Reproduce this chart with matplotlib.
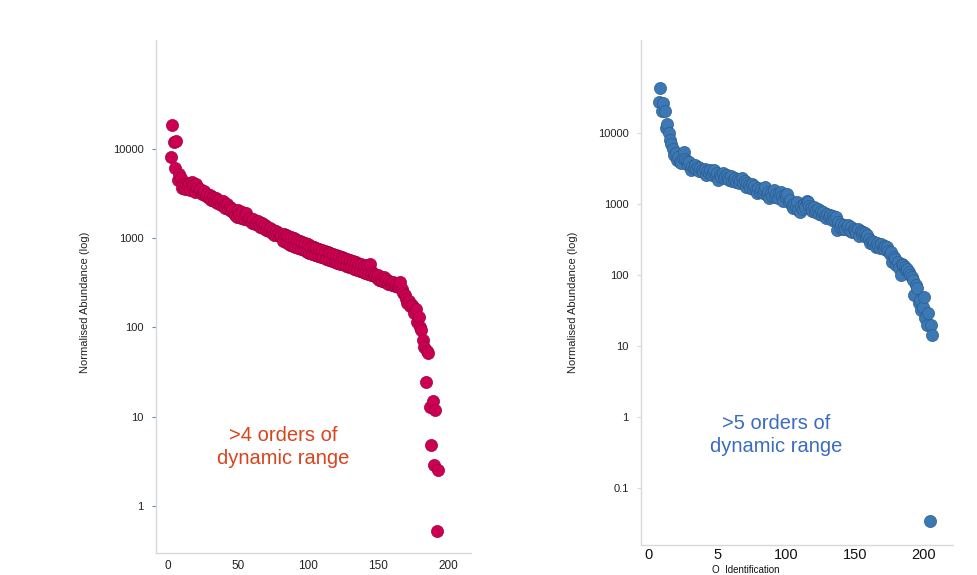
import numpy as np
import matplotlib.pyplot as plt

plt.rcParams['font.family'] = ['Liberation Sans', 'DejaVu Sans']

# ---- left panel: ranked abundances (crimson) ----
left_abund = [
    8100, 18600, 12000, 6200, 12200, 4500, 5300, 4700, 3700, 4100,
    3600, 4000, 3800, 4200, 3500, 4300, 3900, 3300, 4000, 3700,
    3400, 3600, 3100, 3200, 3400, 2950, 3100, 2800, 3050, 2700,
    2900, 2600, 2850, 2500, 2700, 2450, 2350, 2600, 2300, 2200,
    2400, 2100, 2250, 2000, 2150, 1900, 1800, 1740, 2050, 1850,
    1700, 1950, 1650, 1800, 1920, 1600, 1700, 1550, 1500, 1650,
    1450, 1470, 1550, 1400, 1350, 1480, 1300, 1420, 1250, 1350,
    1200, 1300, 1150, 1250, 1100, 1200, 1080, 1150, 1050, 1080,
    930, 1120, 1100, 880, 1060, 850, 1020, 820, 1000, 800,
    950, 780, 940, 760, 900, 730, 880, 700, 860, 690,
    820, 660, 800, 650, 780, 640, 760, 620, 740, 610,
    720, 590, 700, 570, 690, 560, 660, 540, 650, 530,
    640, 520, 620, 510, 600, 490, 590, 480, 570, 470,
    560, 450, 540, 440, 520, 430, 510, 420, 490, 410,
    500, 400, 520, 390, 420, 400, 380, 360, 390, 340,
    350, 330, 370, 320, 345, 310, 330, 315, 300, 325,
    290, 310, 285, 300, 325, 270, 244, 230, 210, 190,
    200, 175, 180, 171, 145, 160, 116, 130, 100, 94,
    72, 61, 24.7, 55, 52, 13, 4.8, 15, 2.9, 12,
    0.53, 2.5,
]
left_rank = np.arange(2, 2 + len(left_abund))

# ---- right panel: ranked abundances (blue) ----
right_abund = [
    27600, 42700, 20600, 26200, 20600, 11700, 13400, 10100, 8000, 7000,
    6000, 4900, 5200, 4170, 4600, 3900, 3730, 4500, 5450, 4300,
    4000, 3600, 3950, 3000, 3400, 3200, 3600, 3100, 3300, 2900,
    3200, 3000, 2800, 3100, 2560, 2900, 2700, 3000, 2600, 2800,
    3000, 2500, 2700, 2190, 2600, 2400, 2700, 2300, 2500, 2560,
    2300, 2200, 2450, 2100, 2190, 2350, 2050, 2250, 2000, 2150,
    2290, 1950, 2100, 1750, 2000, 1850, 1700, 1900, 1650, 1800,
    1550, 1420, 1700, 1500, 1650, 1450, 1600, 1750, 1350, 1500,
    1200, 1450, 1300, 1550, 1250, 1400, 1200, 1420, 1500, 1300,
    1100, 1350, 1250, 1400, 1050, 1150, 950, 870, 1000, 900,
    1050, 820, 780, 950, 850, 1000, 900, 1100, 1070, 950,
    880, 800, 900, 760, 830, 850, 720, 800, 700, 760,
    680, 630, 720, 650, 700, 600, 680, 620, 650, 430,
    550, 480, 520, 450, 500, 440, 470, 505, 420, 480,
    400, 450, 410, 385, 440, 360, 420, 380, 400, 385,
    340, 370, 320, 280, 300, 270, 290, 250, 280, 260,
    240, 270, 250, 230, 260, 250, 220, 200, 210, 154,
    180, 170, 140, 150, 125, 100, 145, 138, 130, 117,
    120, 110, 100, 95, 85, 52, 72, 65, 40, 45,
    32, 36, 49, 24.5, 20, 29, 0.034, 20, 14.3,
]
right_rank = np.arange(8, 8 + len(right_abund))

left_yticks = [1, 10, 100, 1000, 10000]
right_yticks = [0.1, 1, 10, 100, 1000, 10000]
left_xticks = [0, 50, 100, 150, 200]
right_xticks = [0, 50, 100, 150, 200]
right_xlabels = ['0', '5', '100', '150', '200']

crimson = "#cc0052"
blue = "#3c78b4"
grey = "#d9d9d9"

fig = plt.figure(figsize=(9.77, 5.75), dpi=100)

ax1 = fig.add_axes([156/977, 22/575, 315/977, 513/575])
ax2 = fig.add_axes([641/977, 30/575, 312/977, 505/575])

# left
ax1.scatter(left_rank, left_abund, s=76, color=crimson,
            edgecolors="#9e003e", linewidths=0.5, zorder=3)
ax1.set_yscale('log')
ax1.set_xlim(-8.6, 216.4)
ax1.set_ylim(10**-0.527, 10**5.221)
ax1.set_yticks(left_yticks)
ax1.set_yticklabels([str(t) for t in left_yticks])
ax1.minorticks_off()
ax1.set_xticks(left_xticks)
ax1.tick_params(axis='y', length=3, color="#5b8cc0", labelsize=8, labelcolor="#222222", pad=6)
ax1.tick_params(axis='x', length=0, labelsize=8.5, labelcolor="#222222", pad=5)

# right
ax2.scatter(right_rank, right_abund, s=76, color=blue,
            edgecolors="#2c5d8e", linewidths=0.5, zorder=3)
ax2.set_yscale('log')
ax2.set_xlim(-5.1, 221)
ax2.set_ylim(10**-1.803, 10**5.31)
ax2.set_yticks(right_yticks)
ax2.set_yticklabels(['0.1', '1', '10', '100', '1000', '10000'])
ax2.minorticks_off()
ax2.set_xticks(right_xticks)
ax2.set_xticklabels(right_xlabels)
ax2.tick_params(axis='y', length=3, color=grey, labelsize=8, labelcolor="#222222", pad=6)
ax2.tick_params(axis='x', length=0, labelsize=10.5, labelcolor="#111111", pad=2)

for ax in (ax1, ax2):
    for side in ('top', 'right'):
        ax.spines[side].set_visible(False)
    for side in ('left', 'bottom'):
        ax.spines[side].set_color(grey)
        ax.spines[side].set_linewidth(1)

# axis labels
fig.text(85/977, 1 - 302/575, 'Normalised Abundance (log)', rotation=90,
         ha='center', va='center', fontsize=8, color="#222222")
fig.text(573/977, 1 - 302/575, 'Normalised Abundance (log)', rotation=90,
         ha='center', va='center', fontsize=8, color="#222222")
fig.text(712/977, 1 - 575/575, 'O  Identification', ha='left', va='bottom',
         fontsize=7, color="#111111")

# annotations
fig.text(283/977, 1 - 447/575, '>4 orders of\ndynamic range', ha='center', va='center',
         fontsize=14.5, color="#d9441c", linespacing=1.25)
fig.text(776/977, 1 - 435/575, '>5 orders of\ndynamic range', ha='center', va='center',
         fontsize=14.5, color="#3a6cc0", linespacing=1.25)

plt.savefig('out.png')
